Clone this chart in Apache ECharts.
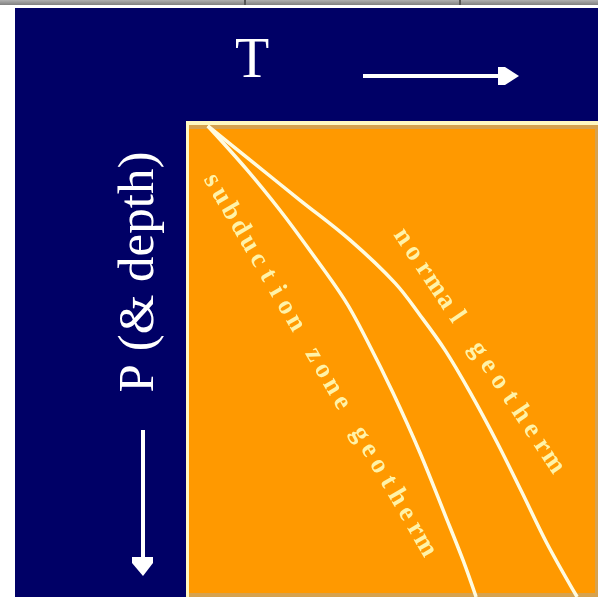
<!DOCTYPE html>
<html>
<head>
<meta charset="utf-8">
<script src="https://cdn.jsdelivr.net/npm/echarts@6/dist/echarts.min.js"></script>
<style>
html, body { margin: 0; padding: 0; background: #fff; }
#chart { width: 598px; height: 597px; }
</style>
</head>
<body>
<div id="chart"></div>
<script>
// temperature (T) and pressure/depth (P), arbitrary units 0-100
var normalT = [4.6, 14.9, 27.1, 39.4, 50.4, 56.5, 62.6, 68.7, 75.3, 81.4, 87.5, 94.9];
var normalP = [0.2, 7.4, 15.9, 24.4, 33.5, 40.3, 47.7, 56.6, 67.2, 77.8, 88.6, 100];
var subT = [4.6, 14.2, 22.2, 28.9, 38.1, 43.5, 49.9, 56.5, 62.6, 67.0, 70.2];
var subP = [0.2, 9.5, 18.0, 25.8, 37.1, 45.6, 56.8, 69.5, 82.6, 92.2, 100];

var labelNames = ['normal geotherm', 'subduction zone geotherm'];
// first and last letter of each curve label, in T/P units
var labelFrom = [[52.3, 23.7], [5.6, 11.7]];
var labelTo = [[89.0, 71.4], [57.7, 89.0]];

function zip(xs, ys) {
    return xs.map(function (x, i) { return [x, ys[i]]; });
}

var mychart = echarts.init(document.getElementById('chart'));

var lineStyle = { color: '#fffbe0', width: 3.5 };
var option = {
    backgroundColor: '#000066',
    animation: false,
    grid: {
        left: 189, top: 125, right: 0, bottom: 0,
        show: true,
        backgroundColor: '#ff9900',
        borderWidth: 0
    },
    xAxis: { type: 'value', min: 0, max: 100, show: false },
    yAxis: { type: 'value', min: 0, max: 100, inverse: true, show: false },
    series: [
        {
            name: labelNames[0], type: 'line', data: zip(normalT, normalP),
            showSymbol: false, smooth: 0.35, lineStyle: lineStyle, z: 5
        },
        {
            name: labelNames[1], type: 'line', data: zip(subT, subP),
            showSymbol: false, smooth: 0.35, lineStyle: lineStyle, z: 5
        }
    ]
};
mychart.setOption(option);

// frame, titles and arrows
var graphic = [
    { type: 'rect', shape: { x: 0, y: 0, width: 15, height: 597 }, style: { fill: '#ffffff' }, z: 1 },
    { type: 'rect', shape: { x: 0, y: 0, width: 598, height: 8 }, style: { fill: '#ffffff' }, z: 1 },
    {
        type: 'rect', shape: { x: 0, y: 0, width: 598, height: 5 }, z: 1,
        style: { fill: new echarts.graphic.LinearGradient(0, 0, 0, 1, [
            { offset: 0, color: '#b0b0b0' }, { offset: 1, color: '#808080' }]) }
    },
    { type: 'rect', shape: { x: 244, y: 0, width: 2, height: 5 }, style: { fill: '#555' }, z: 1 },
    { type: 'rect', shape: { x: 459, y: 0, width: 2, height: 5 }, style: { fill: '#555' }, z: 1 },
    // plot frame
    { type: 'rect', shape: { x: 186, y: 121, width: 412, height: 4 }, style: { fill: '#fff8c0' }, z: 1 },
    { type: 'rect', shape: { x: 186, y: 121, width: 3, height: 476 }, style: { fill: '#fff8c0' }, z: 1 },
    { type: 'rect', shape: { x: 189, y: 125, width: 409, height: 4 }, style: { fill: '#d6a24e' }, z: 1 },
    { type: 'rect', shape: { x: 595, y: 125, width: 3, height: 472 }, style: { fill: '#d6a24e' }, z: 1 },
    { type: 'rect', shape: { x: 189, y: 593, width: 409, height: 4 }, style: { fill: '#d6a24e' }, z: 1 },
    // axis titles
    {
        type: 'text', x: 252, y: 62, z: 2,
        style: { text: 'T', fill: '#ffffff', font: '56px "Liberation Serif"', align: 'center', verticalAlign: 'middle' }
    },
    {
        type: 'text', x: 140, y: 272, rotation: Math.PI / 2, z: 2,
        style: { text: 'P (& depth)', fill: '#ffffff', font: '51px "Liberation Serif"', align: 'center', verticalAlign: 'middle' }
    },
    // arrows
    { type: 'rect', shape: { x: 363, y: 74, width: 136, height: 4 }, style: { fill: '#ffffff' }, z: 2 },
    { type: 'polygon', shape: { points: [[498, 67], [505, 67], [519, 76], [505, 85], [498, 85]] }, style: { fill: '#ffffff' }, z: 2 },
    { type: 'rect', shape: { x: 141, y: 430, width: 4, height: 128 }, style: { fill: '#ffffff' }, z: 2 },
    { type: 'polygon', shape: { points: [[132, 557], [153, 557], [153, 563], [143, 576], [132, 563]] }, style: { fill: '#ffffff' }, z: 2 }
];

// curve labels, one letter at a time along a straight run
labelNames.forEach(function (name, k) {
    var a = mychart.convertToPixel({ gridIndex: 0 }, labelFrom[k]);
    var b = mychart.convertToPixel({ gridIndex: 0 }, labelTo[k]);
    var n = name.length;
    var dx = (b[0] - a[0]) / (n - 1), dy = (b[1] - a[1]) / (n - 1);
    var rot = -Math.atan2(b[1] - a[1], b[0] - a[0]);
    for (var i = 0; i < n; i++) {
        if (name[i] === ' ') continue;
        graphic.push({
            type: 'text', x: a[0] + dx * i, y: a[1] + dy * i, rotation: rot, z: 6,
            style: {
                text: name[i], fill: '#fff3a8', font: 'bold 27px "Liberation Serif"',
                align: 'center', verticalAlign: 'middle'
            }
        });
    }
});

mychart.setOption({ graphic: graphic });
</script>
</body>
</html>
